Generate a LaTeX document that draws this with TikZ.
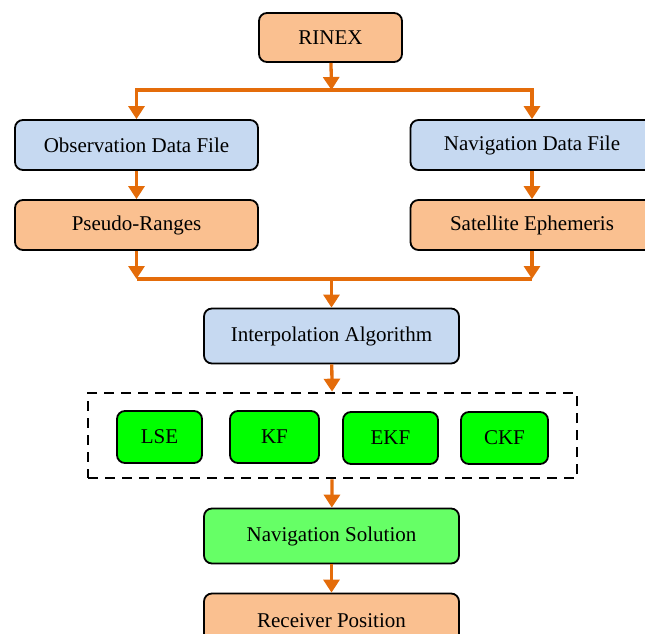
\documentclass[tikz,border=0pt]{standalone}
\usepackage{fontspec}
\setmainfont{Liberation Serif}
\usetikzlibrary{arrows.meta,positioning,shapes}

\definecolor{peach}{HTML}{FAC090}
\definecolor{paleblue}{HTML}{C6D9F1}
\definecolor{brightgreen}{HTML}{00FF00}
\definecolor{lightgreen}{HTML}{66FF66}
\definecolor{flow}{HTML}{E46C0A}

\begin{document}
\begin{tikzpicture}[x=1pt,y=-1pt]
            \tikzstyle{block}=[rectangle, rounded corners=8pt, line width=1.8pt, draw=black, inner sep=2pt, font=\fontsize{21}{25}\selectfont]
            \tikzstyle{wide}=[block, minimum width=243pt, minimum height=50pt]
            \tikzstyle{mid}=[block, minimum width=255pt, minimum height=55pt]
            \tikzstyle{algo}=[block, fill=brightgreen, minimum height=52pt]
            \tikzstyle{connect}=[line width=3.3pt, draw=flow, -{Triangle[length=13pt,width=16pt]}]
            \tikzstyle{wire}=[line width=3.3pt, draw=flow]
            \useasboundingbox (0,0) rectangle (645,634);
            \node[block, fill=peach, minimum width=143pt, minimum height=49pt] (RNX) at (330.5,37.5){RINEX};
            \node[wide, fill=paleblue] (OBS) at (136.5,145){Observation Data File};
            \node[wide, fill=paleblue] (NAV) at (532,145){Navigation Data File};
            \node[wide, fill=peach] (PR) at (136.5,225){Pseudo-Ranges};
            \node[wide, fill=peach] (EPH) at (532,225){Satellite Ephemeris};
            \node[mid, fill=paleblue] (INT) at (331.5,336){Interpolation Algorithm};
            \node[rectangle, draw=black, line width=2.6pt, dash pattern=on 10pt off 7pt, minimum width=489pt, minimum height=85pt] (ALG) at (332.5,435.5){};
            \node[algo, minimum width=85pt] (LSE) at (159.5,437){LSE};
            \node[algo, minimum width=89pt] (KF) at (274.5,437){KF};
            \node[algo, minimum width=95pt] (EKF) at (390.5,438){EKF};
            \node[algo, minimum width=87pt] (CKF) at (504.5,438){CKF};
            \node[mid, fill=lightgreen] (SOL) at (331.5,536){Navigation Solution};
            \node[mid, fill=peach] (POS) at (331.5,621){Receiver Position};
            \coordinate (split) at (331.5,90);
            \coordinate (join) at (331.5,279);

            \path (RNX) edge [connect] (split);
            \draw[connect] (split) -| (OBS.north);
            \draw[connect] (split) -| (NAV.north);
            \path (OBS) edge [connect] (PR);
            \path (NAV) edge [connect] (EPH);

            \draw[connect] (PR.south) -- (PR.south |- join);
            \draw[connect] (EPH.south) -- (EPH.south |- join);
            \draw[wire] (PR.south |- join) -- (EPH.south |- join);
            \path (join) edge [connect] (INT);

            \path (INT) edge [connect] (ALG);
            \path (ALG) edge [connect] (SOL);
            \path (SOL) edge [connect] (POS);

        \end{tikzpicture}
\end{document}
